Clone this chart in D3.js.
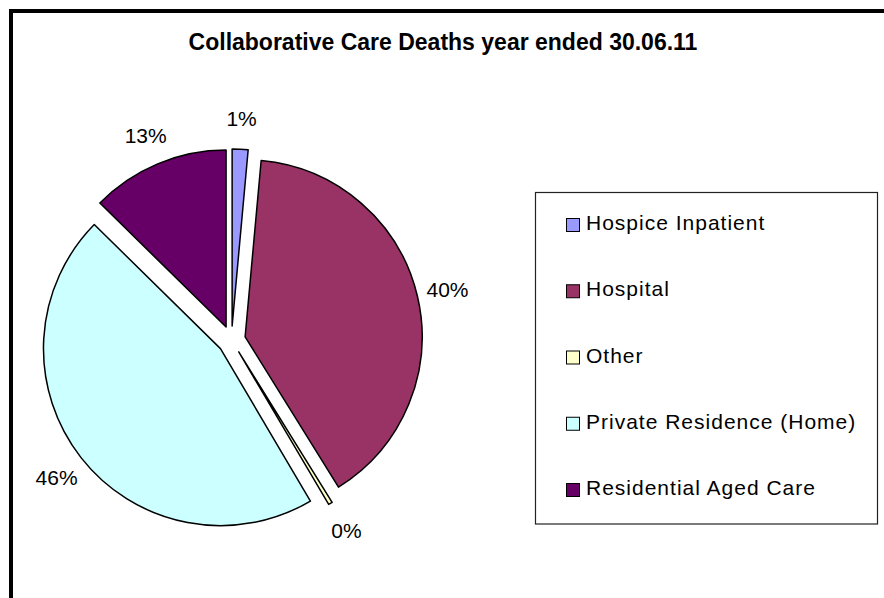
<!DOCTYPE html>
<html><head><meta charset="utf-8">
<script src="https://cdn.jsdelivr.net/npm/d3@7"></script>
<style>body{margin:0;background:#fff}svg{display:block}</style>
</head><body>
<svg id="c" width="884" height="598"></svg>
<script>
const title = "Collaborative Care Deaths year ended 30.06.11";
const categories = ["Hospice Inpatient","Hospital","Other","Private Residence (Home)","Residential Aged Care"];
const values = [4,110,1,127,35];
const colors = ["#9999FF","#993366","#FFFFCC","#CCFFFF","#660066"];

const svg = d3.select("#c");
const W = 884, H = 598;
svg.append("rect").attr("x",0).attr("y",0).attr("width",W).attr("height",H).attr("fill","#fff");
// frame
svg.append("rect").attr("x",11).attr("y",11).attr("width",W+20).attr("height",H+20)
  .attr("fill","none").attr("stroke","#000").attr("stroke-width",4);

svg.append("text").attr("x",443).attr("y",50).attr("text-anchor","middle")
  .attr("font-family","'Liberation Sans',Arial,sans-serif")
  .attr("font-weight","bold").attr("font-size",23).attr("fill","#000").text(title);

const cx = 231.5, cy = 340, r = 177, explode = 14, labelR = 222;
const total = d3.sum(values);
const pie = d3.pie().sort(null).value(d=>d).startAngle(0).endAngle(2*Math.PI);
const arcs = pie(values);
const arc = d3.arc().innerRadius(0).outerRadius(r);
const g = svg.append("g").attr("transform",`translate(${cx},${cy})`);
g.selectAll("path").data(arcs).enter().append("path")
  .attr("d",arc)
  .attr("transform",d=>{const a=(d.startAngle+d.endAngle)/2;return `translate(${explode*Math.sin(a)},${-explode*Math.cos(a)})`;})
  .attr("fill",(d,i)=>colors[i]).attr("stroke","#000").attr("stroke-width",1.5).attr("stroke-linejoin","round");

g.selectAll("text.lbl").data(arcs).enter().append("text").attr("class","lbl")
  .attr("x",d=>{const a=(d.startAngle+d.endAngle)/2;return labelR*Math.sin(a);})
  .attr("y",d=>{const a=(d.startAngle+d.endAngle)/2;return -labelR*Math.cos(a)+8;})
  .attr("text-anchor","middle").attr("font-family","'Liberation Sans',Arial,sans-serif")
  .attr("font-size",21).attr("fill","#000")
  .text(d=>Math.round(d.data/total*100)+"%");

// legend
svg.append("rect").attr("x",535.5).attr("y",192.5).attr("width",342).attr("height",331.5)
  .attr("fill","#fff").attr("stroke","#222").attr("stroke-width",1.2);
const ly = d3.scalePoint().domain(categories).range([230,495]);
const lg = svg.append("g");
categories.forEach((c,i)=>{
  const y = ly(c);
  lg.append("rect").attr("x",566.5).attr("y",y-11.5).attr("width",13).attr("height",13)
    .attr("fill",colors[i]).attr("stroke","#000").attr("stroke-width",1);
  lg.append("text").attr("x",586).attr("y",y).attr("font-family","'Liberation Sans',Arial,sans-serif")
    .attr("font-size",21).attr("letter-spacing",1).attr("fill","#000").text(c);
});
</script>
</body></html>
